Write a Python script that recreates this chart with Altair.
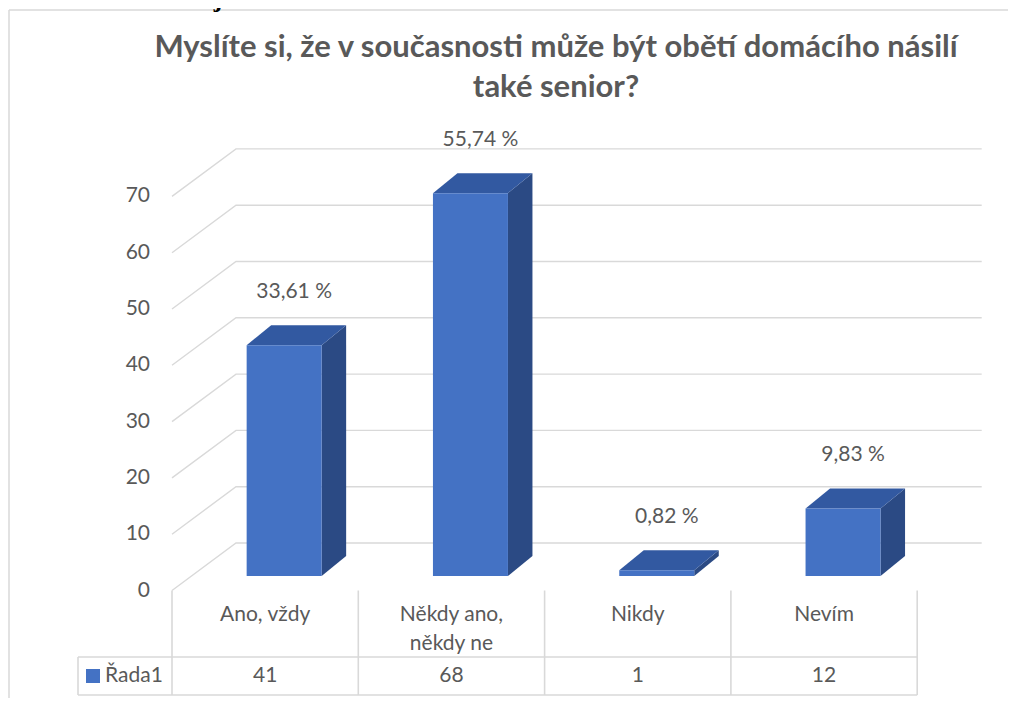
import altair as alt
import pandas as pd

# ---------------- data ----------------
category_lines = [["Ano, vždy"], ["Někdy ano,", "někdy ne"], ["Nikdy"], ["Nevím"]]
values = [41, 68, 1, 12]
percent_labels = ["33,61 %", "55,74 %", "0,82 %", "9,83 %"]
y_ticks = [0, 10, 20, 30, 40, 50, 60, 70]
series_name = "Řada1"
title_lines = ["Myslíte si, že v současnosti může být obětí domácího násilí", "také senior?"]
caption = "Graf č. 10: Senior jako oběť domácího násilí"

# ---------------- layout (pixels of the page) ----------------
W, H = 1000, 690
MARGIN = 8
COL_W = 186.3        # width of one category column
COL0_X = 172.0       # page x of the left edge of the first column
PX_V = 5.63          # pixels per value unit
V0_Y = 590.5         # page y of value 0 at the front wall
FLOOR_DX, FLOOR_DY = 64.0, 47.5
BAR_W = 75.0
BAR_SHIFT_X, BAR_SHIFT_Y = 19.0, 14.5
DEPTH_X, DEPTH_Y = 24.5, 20.0

FONT = "Lato"
TEXT = "#595959"
GRID = "#D9D9D9"
FRONT, TOP, SIDE = "#4472C4", "#3259A1", "#2B4A84"


def cx(px):
    return (px - COL0_X) / COL_W


def vy(py):
    return (V0_Y - py) / PX_V


def dcx(d):
    return d / COL_W


def dvy(d):
    return d / PX_V


xs = alt.Scale(domain=[cx(MARGIN), cx(MARGIN + W)], nice=False, zero=False)
ys = alt.Scale(domain=[vy(MARGIN + H), vy(MARGIN)], nice=False, zero=False)


def X(f, stack=False):
    if stack:
        return alt.X(f, type="quantitative", scale=xs, axis=None, stack=None)
    return alt.X(f, type="quantitative", scale=xs, axis=None)


def Y(f, stack=False):
    if stack:
        return alt.Y(f, type="quantitative", scale=ys, axis=None, stack=None)
    return alt.Y(f, type="quantitative", scale=ys, axis=None)


# ---------------- gridlines (3D walls) ----------------
grid_rows = []
for t in y_ticks:
    pts = [(0.0, t), (dcx(FLOOR_DX), t + dvy(FLOOR_DY)), (cx(981.7), t + dvy(FLOOR_DY))]
    for k, (gx, gy) in enumerate(pts):
        grid_rows.append({"x": gx, "y": gy, "tick": t, "o": k})
grid = alt.Chart(pd.DataFrame(grid_rows)).mark_line(color=GRID, strokeWidth=1.4).encode(
    x=X("x"), y=Y("y"), detail="tick:N", order="o:Q"
)

# ---------------- bars ----------------
front_rows, top_rows, side_rows = [], [], []
for i, v in enumerate(values):
    left = i + 0.5 - dcx(BAR_W / 2) + dcx(BAR_SHIFT_X)
    right = left + dcx(BAR_W)
    base = dvy(BAR_SHIFT_Y)
    topv = v + base
    front_rows.append({"x": left, "x2": right, "y": base, "y2": topv})
    top_rows.append({"bar": i, "y": topv, "xa": left, "xb": right})
    top_rows.append({"bar": i, "y": topv + dvy(DEPTH_Y), "xa": left + dcx(DEPTH_X), "xb": right + dcx(DEPTH_X)})
    side_rows.append({"bar": i, "x": right, "ya": topv, "yb": base})
    side_rows.append({"bar": i, "x": right + dcx(DEPTH_X), "ya": topv + dvy(DEPTH_Y), "yb": base + dvy(DEPTH_Y)})

front = alt.Chart(pd.DataFrame(front_rows)).mark_rect(color=FRONT).encode(
    x=X("x"), x2="x2", y=Y("y"), y2="y2"
)
top = alt.Chart(pd.DataFrame(top_rows)).mark_area(color=TOP, orient="horizontal").encode(
    y=Y("y"), x=X("xa", stack=True), x2="xb", detail="bar:N"
)
side = alt.Chart(pd.DataFrame(side_rows)).mark_area(color=SIDE, orient="vertical").encode(
    x=X("x"), y=Y("ya", stack=True), y2="yb", detail="bar:N"
)

# ---------------- table lines and border ----------------
line_rows = []
for c in range(len(values) + 1):
    line_rows.append({"x": c, "x2": c, "y": 0.0, "y2": vy(695)})
line_rows.append({"x": cx(78), "x2": cx(78), "y": vy(657), "y2": vy(695)})
line_rows.append({"x": cx(78), "x2": len(values), "y": vy(657), "y2": vy(657)})
line_rows.append({"x": cx(78), "x2": len(values), "y": vy(695), "y2": vy(695)})
table_lines = alt.Chart(pd.DataFrame(line_rows)).mark_rule(color=GRID, strokeWidth=1.6).encode(
    x=X("x"), x2="x2", y=Y("y"), y2="y2"
)

border_rows = [
    {"x": cx(9), "x2": cx(9), "y": vy(10), "y2": vy(MARGIN + H)},
    {"x": cx(9), "x2": cx(MARGIN + W), "y": vy(10), "y2": vy(10)},
]
border = alt.Chart(pd.DataFrame(border_rows)).mark_rule(color=GRID, strokeWidth=1.5).encode(
    x=X("x"), x2="x2", y=Y("y"), y2="y2"
)


# ---------------- texts ----------------
def text_layer(rows, size, align="center", baseline="middle", weight="normal", font=FONT, color=TEXT):
    return alt.Chart(pd.DataFrame(rows)).mark_text(
        align=align, baseline=baseline, fontSize=size, fontWeight=weight, font=font, color=color
    ).encode(x=X("x"), y=Y("y"), text="t:N")


tick_text = text_layer([{"x": cx(150), "y": t, "t": str(t)} for t in y_ticks], 21, align="right")

cat_rows = []
for i, lines in enumerate(category_lines):
    for k, ln in enumerate(lines):
        cat_rows.append({"x": i + 0.5, "y": vy(615 + 29 * k), "t": ln})
cat_text = text_layer(cat_rows, 21)

val_text = text_layer([{"x": i + 0.5, "y": vy(676), "t": str(v)} for i, v in enumerate(values)], 21)

pct_rows = []
for i, (v, p) in enumerate(zip(values, percent_labels)):
    pct_rows.append({
        "x": i + 0.5 + dcx(BAR_SHIFT_X + 10),
        "y": v + dvy(BAR_SHIFT_Y + DEPTH_Y + 33),
        "t": p,
    })
pct_text = text_layer(pct_rows, 21)

legend_box = alt.Chart(pd.DataFrame([{"x": cx(86), "x2": cx(100), "y": vy(669), "y2": vy(683)}])).mark_rect(
    color=FRONT
).encode(x=X("x"), x2="x2", y=Y("y"), y2="y2")
legend_text = text_layer([{"x": cx(105), "y": vy(676), "t": series_name}], 21, align="left")

title_text = text_layer(
    [{"x": cx(556), "y": vy(48 + 40 * k), "t": ln} for k, ln in enumerate(title_lines)],
    31, weight="bold",
)
caption_text = text_layer(
    [{"x": cx(10), "y": vy(7), "t": caption}], 26, align="left", baseline="alphabetic",
    weight="bold", font="Liberation Serif", color="#000000",
)

chart = alt.layer(
    border, grid, table_lines, side, top, front,
    tick_text, cat_text, val_text, pct_text, legend_box, legend_text, title_text, caption_text,
).properties(
    width=W, height=H, autosize=alt.AutoSizeParams(type="none"), padding=0,
).configure_view(strokeWidth=0)

chart.save("out.html", embed_options={"renderer": "svg", "actions": False})
